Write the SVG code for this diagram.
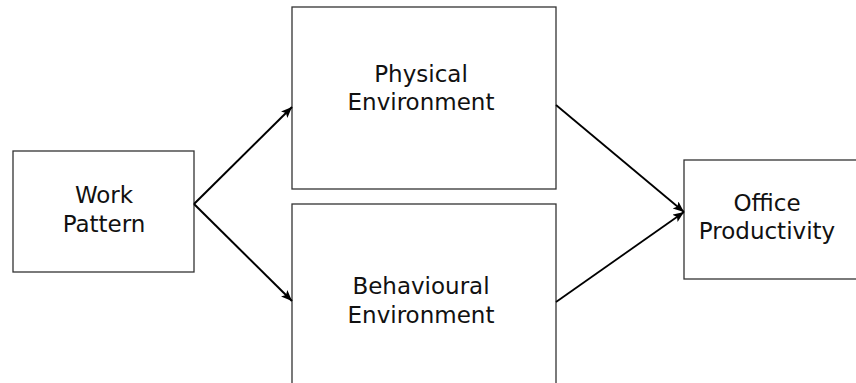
<svg xmlns="http://www.w3.org/2000/svg" width="856" height="383" viewBox="0 0 856 383">
  <style>
    .box { fill: #ffffff; stroke: #333333; stroke-width: 1.3; }
    .lbl { font-family: "DejaVu Sans", Verdana, sans-serif; font-size: 23px; fill: #111111; text-anchor: middle; }
    .edge { fill: none; stroke: #000000; stroke-width: 2; }
  </style>
  <defs>
    <marker id="arrow" markerUnits="userSpaceOnUse" markerWidth="12" markerHeight="10" refX="11" refY="4.5" orient="auto">
      <path d="M0,0 L11,4.5 L0,9 L2.5,4.5 z" fill="#000000"/>
    </marker>
  </defs>
  <rect width="856" height="383" fill="#ffffff"/>
  <g id="work-pattern">
    <rect class="box" x="13" y="151" width="181" height="121"/>
    <text class="lbl" x="104" y="203">Work</text>
    <text class="lbl" x="104" y="232">Pattern</text>
  </g>
  <g id="physical-environment">
    <rect class="box" x="292" y="7" width="264" height="182"/>
    <text class="lbl" x="421" y="82">Physical</text>
    <text class="lbl" x="421" y="110">Environment</text>
  </g>
  <g id="behavioural-environment">
    <rect class="box" x="292" y="204" width="264" height="200"/>
    <text class="lbl" x="421" y="294">Behavioural</text>
    <text class="lbl" x="421" y="323">Environment</text>
  </g>
  <g id="office-productivity">
    <rect class="box" x="684" y="160" width="190" height="119"/>
    <text class="lbl" x="767" y="211">Office</text>
    <text class="lbl" x="767" y="239">Productivity</text>
  </g>
  <g id="connectors">
    <line class="edge" x1="194" y1="204" x2="292" y2="107" marker-end="url(#arrow)"/>
    <line class="edge" x1="194" y1="204" x2="292" y2="301" marker-end="url(#arrow)"/>
    <line class="edge" x1="556" y1="105" x2="684" y2="212" marker-end="url(#arrow)" style="stroke-width:1.8"/>
    <line class="edge" x1="556" y1="302" x2="684" y2="212" marker-end="url(#arrow)" style="stroke-width:1.8"/>
  </g>
</svg>
